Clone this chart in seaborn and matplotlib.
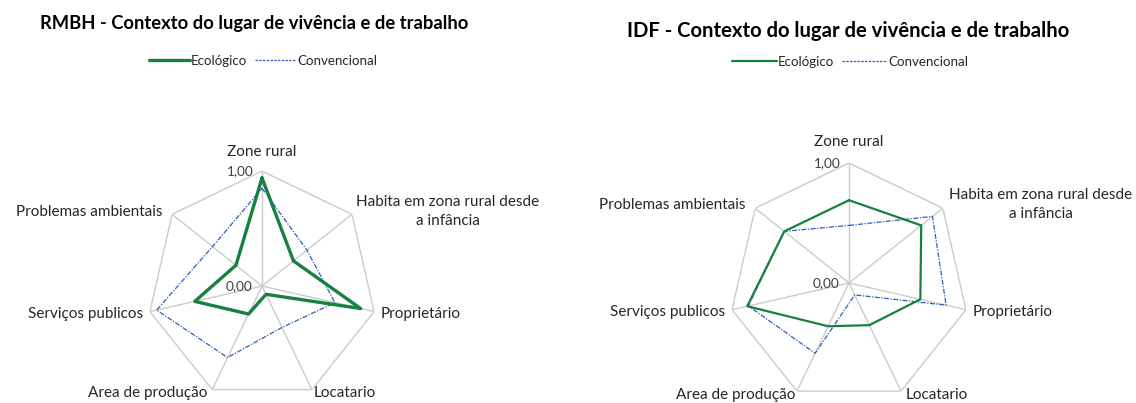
import numpy as np
import matplotlib
matplotlib.use("Agg")
import matplotlib.pyplot as plt
from matplotlib.lines import Line2D
import seaborn as sns

# Categories (clockwise from top)
categorias = ["Zone rural", "Habita em zona rural desde\na infância", "Proprietário",
              "Locatario", "Area de produção", "Serviços publicos", "Problemas ambientais"]

# RMBH values
rmbh_eco = [0.94, 0.35, 0.88, 0.08, 0.27, 0.60, 0.29]
rmbh_conv = [0.85, 0.50, 0.65, 0.40, 0.69, 0.94, 0.55]

# IDF values
idf_eco = [0.69, 0.77, 0.61, 0.39, 0.40, 0.87, 0.69]
idf_conv = [0.48, 0.89, 0.83, 0.11, 0.65, 0.86, 0.69]

tick_labels = ["0,00", "1,00"]

titulos = ["RMBH - Contexto do lugar de vivência e de trabalho",
           "IDF - Contexto do lugar de vivência e de trabalho"]

sns.set_theme(style="white")
plt.rcParams["font.family"] = ["Lato", "DejaVu Sans"]

verde = "#17813F"
azul = "#2F5DB9"
cinza = "#CBCBCB"

fig = plt.figure(figsize=(11.36, 4.03), dpi=100)

n = len(categorias)
theta = np.linspace(0, 2 * np.pi, n, endpoint=False)
theta_c = np.append(theta, theta[0] + 2 * np.pi)

# per-chart settings: axes rect, label offsets (pixels), line widths, title
configs = [
    dict(rect=[0.1294, 0.0049, 0.2025, 0.5707], eco=rmbh_eco, conv=rmbh_conv, eco_lw=2.4,
         offs=[(0, 19, "center"), (96, 3, "center"), (6, -2, "left"), (2, -3, "left"),
               (-5, -3, "right"), (-7, -2, "right"), (-10, 2, "right")],
         title_xy=(40 / 1136, 1 - 24 / 403), title_size=13.2,
         leg_xy=(263 / 1136, 1 - 61 / 403), leg_hl=3.1),
    dict(rect=[0.6417, 0.0, 0.2113, 0.5955], eco=idf_eco, conv=idf_conv, eco_lw=1.6,
         offs=[(0, 21, "center"), (98, 4, "center"), (7, -2, "left"), (5, -4, "left"),
               (-2, -4, "right"), (-7, -2, "right"), (-10, 3, "right")],
         title_xy=(627 / 1136, 1 - 31 / 403), title_size=14.6,
         leg_xy=(850 / 1136, 1 - 62 / 403), leg_hl=3.4),
]

for i, cfg in enumerate(configs):
    ax = fig.add_axes(cfg["rect"], projection="polar")
    ax.set_theta_zero_location("N")
    ax.set_theta_direction(-1)
    ax.set_ylim(0, 1)
    ax.grid(False)
    ax.spines["polar"].set_visible(False)
    ax.set_xticks([])
    ax.set_yticks([])
    ax.set_facecolor("none")

    # heptagon grid and spokes
    ax.plot(theta_c, np.ones(n + 1), color=cinza, lw=1.0, zorder=1)
    for t in theta:
        ax.plot([t, t], [0, 1], color=cinza, lw=1.0, zorder=1)

    sns.lineplot(x=theta_c, y=np.append(cfg["conv"], cfg["conv"][0]), sort=False,
                 color=azul, lw=0.9, linestyle=(0, (4, 1.2, 1, 1.2)), ax=ax, zorder=3)
    sns.lineplot(x=theta_c, y=np.append(cfg["eco"], cfg["eco"][0]), sort=False,
                 color=verde, lw=cfg["eco_lw"], ax=ax, zorder=4)
    ax.set_xlabel("")
    ax.set_ylabel("")
    ax.set_ylim(0, 1)

    for t, lab, (dx, dy, ha) in zip(theta, categorias, cfg["offs"]):
        ax.annotate(lab, xy=(t, 1), xytext=(dx, dy), textcoords="offset pixels",
                    ha=ha, va="center", fontsize=11, color="#262626",
                    annotation_clip=False, linespacing=1.45)

    # radial tick labels
    ax.annotate(tick_labels[1], xy=(0, 1), xytext=(-8, 0), textcoords="offset pixels",
                ha="right", va="center", fontsize=9.8, color="#404040", annotation_clip=False)
    ax.annotate(tick_labels[0], xy=(0, 0), xytext=(-10, 0), textcoords="offset pixels",
                ha="right", va="center", fontsize=9.8, color="#404040", annotation_clip=False)

    fig.text(cfg["title_xy"][0], cfg["title_xy"][1], titulos[i], ha="left", va="center",
             fontsize=cfg["title_size"], fontweight="bold", color="black")

    handles = [Line2D([], [], color=verde, lw=cfg["eco_lw"]),
               Line2D([], [], color=azul, lw=0.9, linestyle=(0, (2, 1)))]
    fig.legend(handles, ["Ecológico", "Convencional"], loc="center",
               bbox_to_anchor=cfg["leg_xy"], ncol=2, frameon=False, fontsize=9.6,
               handlelength=cfg["leg_hl"], handletextpad=0.05, columnspacing=0.6,
               borderaxespad=0)

fig.savefig("out.png", dpi=100)
